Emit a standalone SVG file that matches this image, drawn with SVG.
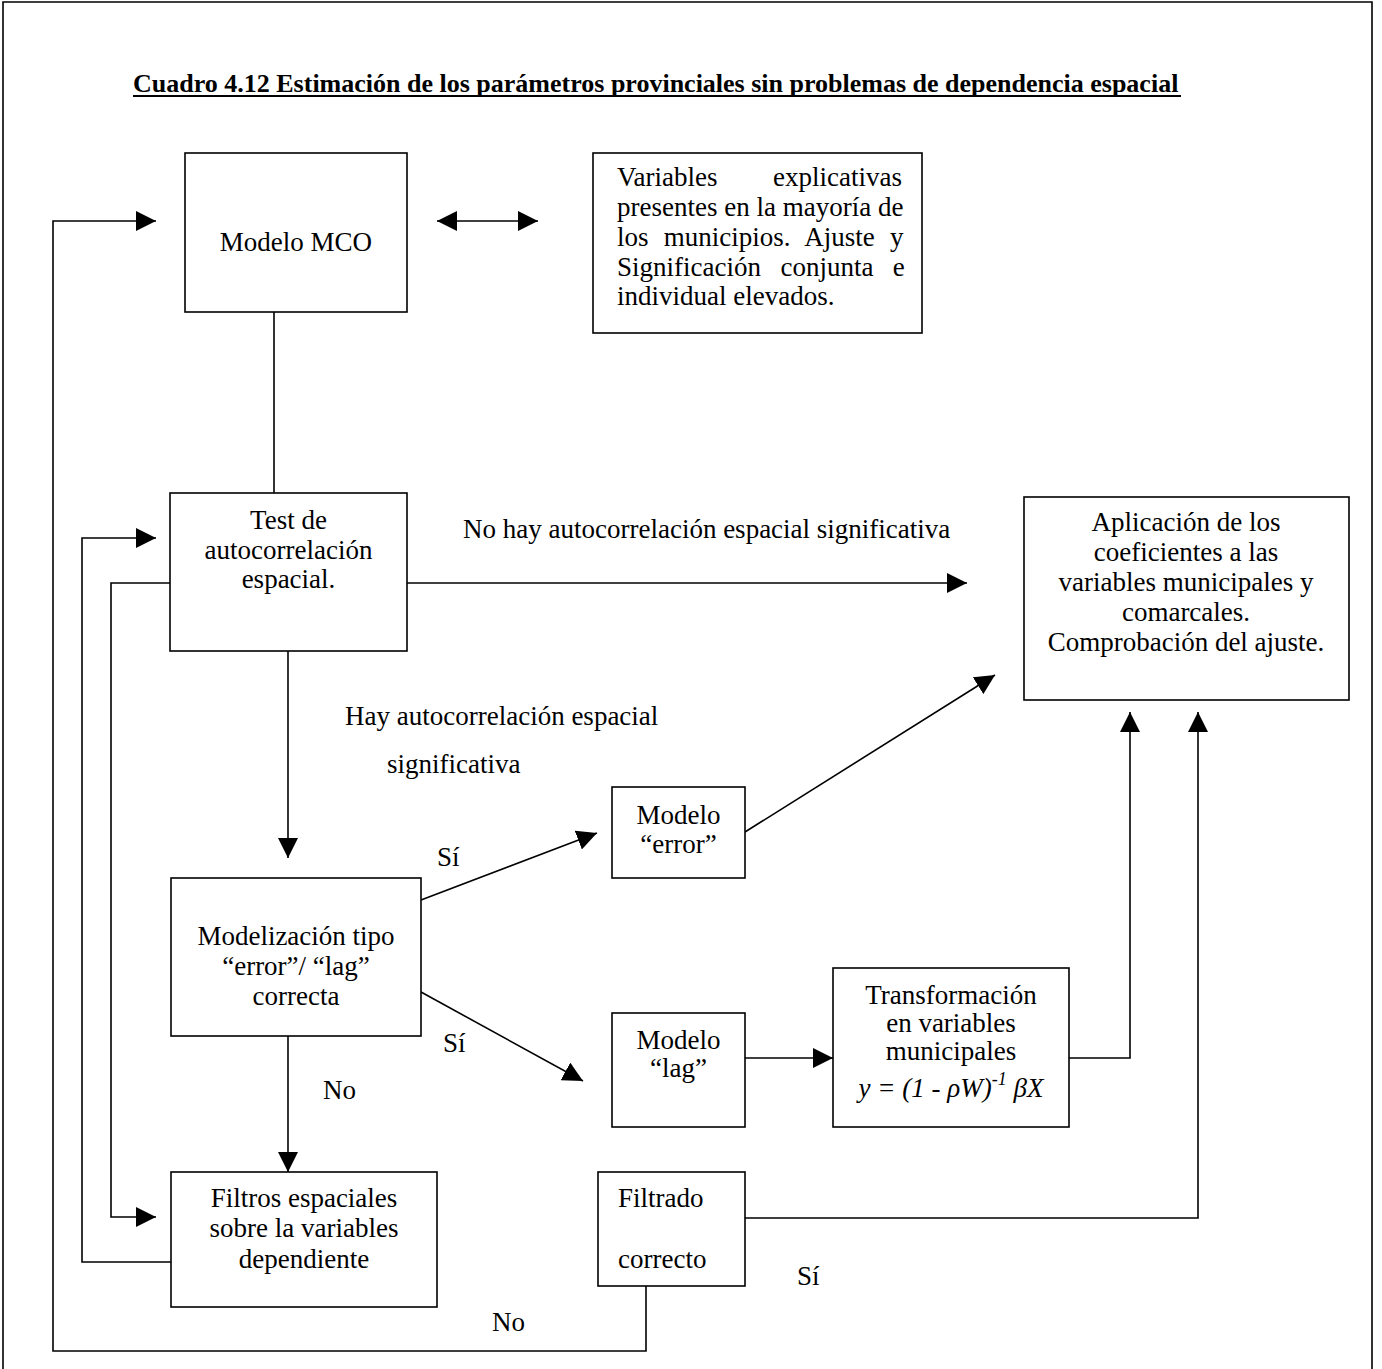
<svg xmlns="http://www.w3.org/2000/svg" width="1382" height="1369" viewBox="0 0 1382 1369">
<style>
text{font-family:"Liberation Serif","Times New Roman",serif;font-size:27px;fill:#000}
.c{text-anchor:middle}
.t{font-weight:bold;font-size:26px}
.box{fill:#fff;stroke:#000;stroke-width:1.6}
.ln{fill:none;stroke:#000;stroke-width:1.6}
.it{font-style:italic}
</style>
<defs>
<marker id="ah" markerUnits="userSpaceOnUse" markerWidth="20" markerHeight="20" refX="20" refY="10" orient="auto-start-reverse" viewBox="0 0 20 20">
<path d="M0,0 L20,10 L0,20 z" fill="#000"/>
</marker>
</defs>
<rect width="1382" height="1369" fill="#fff"/>
<path d="M3,1369 V2 H1372 V1369" fill="none" stroke="#000" stroke-width="1.6"/>
<g id="title">
<text class="t" x="133" y="92">Cuadro 4.12 Estimación de los parámetros provinciales sin problemas de dependencia espacial</text>
<line x1="133" y1="96" x2="1181" y2="96" stroke="#000" stroke-width="1.8"/>
</g>
<g id="connectors">
<path class="ln" d="M274,312 V493"/>
<path class="ln" d="M437,221 H538" marker-start="url(#ah)" marker-end="url(#ah)"/>
<path class="ln" d="M646,1286 V1351 H53 V221 H156" marker-end="url(#ah)"/>
<path class="ln" d="M170,583 H111 V1217 H156" marker-end="url(#ah)"/>
<path class="ln" d="M171,1262 H82 V538 H156" marker-end="url(#ah)"/>
<path class="ln" d="M407,583 H967" marker-end="url(#ah)"/>
<path class="ln" d="M288,651 V858" marker-end="url(#ah)"/>
<path class="ln" d="M288,1036 V1172" marker-end="url(#ah)"/>
<path class="ln" d="M421,900 L597,833" marker-end="url(#ah)"/>
<path class="ln" d="M421,992 L583,1081" marker-end="url(#ah)"/>
<path class="ln" d="M745,832 L995,675" marker-end="url(#ah)"/>
<path class="ln" d="M745,1058 H833" marker-end="url(#ah)"/>
<path class="ln" d="M1069,1058 H1130 V712" marker-end="url(#ah)"/>
<path class="ln" d="M745,1218 H1198 V712" marker-end="url(#ah)"/>
</g>
<g id="labels">
<text x="463" y="538">No hay autocorrelación espacial significativa</text>
<text x="345" y="725">Hay autocorrelación espacial</text>
<text x="387" y="773">significativa</text>
<text x="437" y="866">Sí</text>
<text x="443" y="1052">Sí</text>
<text x="323" y="1099">No</text>
<text x="797" y="1285">Sí</text>
<text x="492" y="1331">No</text>
</g>
<g id="modelo-mco">
<rect class="box" x="185" y="153" width="222" height="159"/>
<text class="c" x="296" y="251">Modelo MCO</text>
</g>
<g id="variables">
<rect class="box" x="593" y="153" width="329" height="180"/>
<text x="617" y="186" word-spacing="48.9">Variables explicativas</text>
<text x="617" y="216">presentes en la mayoría de</text>
<text x="617" y="246" word-spacing="8.5">los municipios. Ajuste y</text>
<text x="617" y="276" word-spacing="12.7">Significación conjunta e</text>
<text x="617" y="305">individual elevados.</text>
</g>
<g id="test">
<rect class="box" x="170" y="493" width="237" height="158"/>
<text class="c" x="288.5" y="529">Test de</text>
<text class="c" x="288.5" y="558.5">autocorrelación</text>
<text class="c" x="288.5" y="588">espacial.</text>
</g>
<g id="aplicacion">
<rect class="box" x="1024" y="497" width="325" height="203"/>
<text class="c" x="1186" y="531">Aplicación de los</text>
<text class="c" x="1186" y="561">coeficientes a las</text>
<text class="c" x="1186" y="591">variables municipales y</text>
<text class="c" x="1186" y="621">comarcales.</text>
<text class="c" x="1186" y="651">Comprobación del ajuste.</text>
</g>
<g id="modelo-error">
<rect class="box" x="612" y="787" width="133" height="91"/>
<text class="c" x="678.5" y="824">Modelo</text>
<text class="c" x="678.5" y="853">“error”</text>
</g>
<g id="modelizacion">
<rect class="box" x="171" y="878" width="250" height="158"/>
<text class="c" x="296" y="945">Modelización tipo</text>
<text class="c" x="296" y="975">“error”/ “lag”</text>
<text class="c" x="296" y="1005">correcta</text>
</g>
<g id="modelo-lag">
<rect class="box" x="612" y="1013" width="133" height="114"/>
<text class="c" x="678.5" y="1049">Modelo</text>
<text class="c" x="678.5" y="1077">“lag”</text>
</g>
<g id="transformacion">
<rect class="box" x="833" y="968" width="236" height="159"/>
<text class="c" x="951" y="1004">Transformación</text>
<text class="c" x="951" y="1032">en variables</text>
<text class="c" x="951" y="1060">municipales</text>
<text class="c it" x="951" y="1097">y = (1 - ρW)<tspan font-size="18" dy="-12">-1</tspan><tspan dy="12"> βX</tspan></text>
</g>
<g id="filtros">
<rect class="box" x="171" y="1172" width="266" height="135"/>
<text class="c" x="304" y="1207">Filtros espaciales</text>
<text class="c" x="304" y="1237">sobre la variables</text>
<text class="c" x="304" y="1268">dependiente</text>
</g>
<g id="filtrado">
<rect class="box" x="598" y="1172" width="147" height="114"/>
<text x="618" y="1207">Filtrado</text>
<text x="618" y="1268">correcto</text>
</g>
</svg>
